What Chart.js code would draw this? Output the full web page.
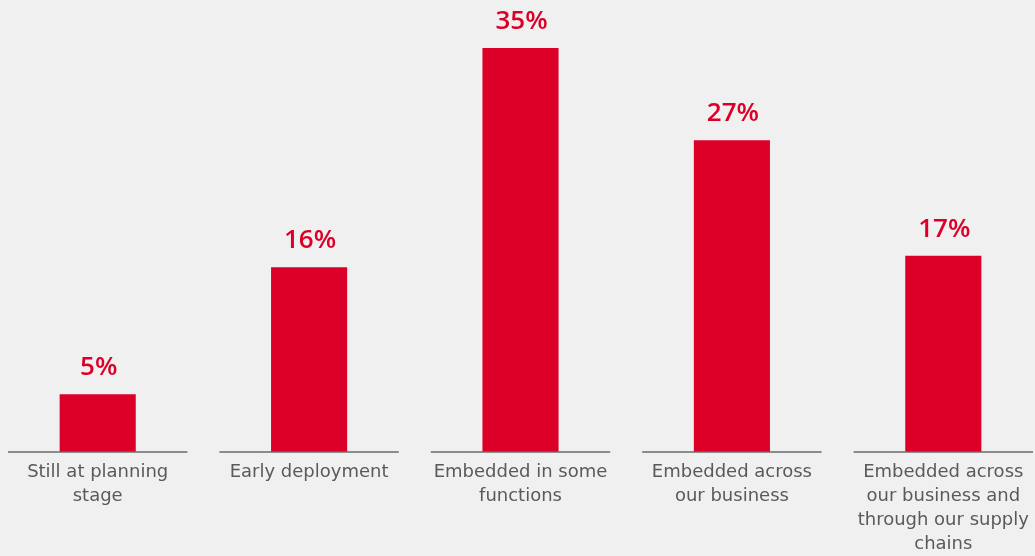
<!DOCTYPE html>
<html>
<head>
<meta charset="utf-8">
<script src="https://cdn.jsdelivr.net/npm/chart.js@4/dist/chart.umd.min.js"></script>
<style>
  html, body { margin: 0; padding: 0; background: #f0f0f0; overflow: hidden; }
  #wrap { position: absolute; left: -8px; top: 0; width: 1057px; height: 556px; }
</style>
</head>
<body>
<div id="wrap"><canvas id="chartStage"></canvas></div>
<script>
// stages of adoption
var categories = [
  ["Still at planning", "stage"],
  ["Early deployment"],
  ["Embedded in some", "functions"],
  ["Embedded across", "our business"],
  ["Embedded across", "our business and", "through our supply", "chains"]
];
var shares = [5, 16, 35, 27, 17];

var barRed = "#dc0028";

// short grey baseline under each category, with gaps between them
var baseSegments = {
  id: "baseSegments",
  afterDatasetsDraw: function(chart) {
    var x = chart.scales.x, y = chart.scales.y;
    var ctx = chart.ctx;
    var step = x.width / categories.length;
    var base = y.getPixelForValue(0);
    ctx.save();
    ctx.strokeStyle = "#6b6b6b";
    ctx.lineWidth = 1.5;
    categories.forEach(function(c, i) {
      var cx = x.getPixelForValue(i);
      ctx.beginPath();
      ctx.moveTo(cx - step / 2 + 16, base);
      ctx.lineTo(cx + step / 2 - 16, base);
      ctx.stroke();
    });
    ctx.restore();
  }
};

// percentage above each bar
var valueLabels = {
  id: "valueLabels",
  afterDatasetsDraw: function(chart) {
    var ctx = chart.ctx;
    var meta = chart.getDatasetMeta(0);
    ctx.save();
    ctx.fillStyle = barRed;
    ctx.font = "600 26px 'Open Sans', sans-serif";
    ctx.textAlign = "center";
    ctx.textBaseline = "alphabetic";
    meta.data.forEach(function(bar, i) {
      ctx.fillText(shares[i] + "%", bar.x + 1, bar.y - 19);
    });
    ctx.restore();
  }
};

var ctx = document.getElementById("chartStage").getContext("2d");
var myChart = new Chart(ctx, {
  type: "bar",
  data: {
    labels: categories,
    datasets: [{
      data: shares,
      backgroundColor: barRed,
      borderWidth: 0,
      barPercentage: 0.36,
      categoryPercentage: 1
    }]
  },
  options: {
    responsive: true,
    maintainAspectRatio: false,
    animation: false,
    layout: { padding: { top: 48, left: 0, right: 0, bottom: 0 } },
    plugins: {
      legend: { display: false },
      tooltip: { enabled: false }
    },
    scales: {
      x: {
        grid: { display: false, drawTicks: false },
        border: { display: false },
        ticks: {
          color: "#5a5a5a",
          padding: 8,
          maxRotation: 0,
          autoSkip: false,
          font: { family: "'DejaVu Sans', sans-serif", size: 18, lineHeight: 24 / 18 }
        },
        afterFit: function(axis) { axis.height = 104; }
      },
      y: {
        display: false,
        min: 0,
        max: 35
      }
    }
  },
  plugins: [baseSegments, valueLabels]
});
</script>
</body>
</html>
